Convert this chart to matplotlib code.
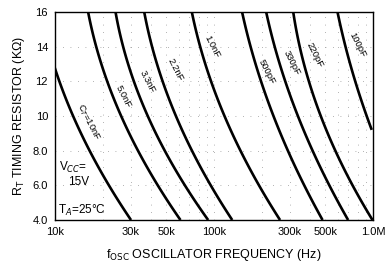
import matplotlib.pyplot as plt
import matplotlib.ticker as mticker
import numpy as np

plt.rcParams['font.family'] = ['Liberation Sans', 'DejaVu Sans']

# resistance (kOhm) / frequency (Hz) for each timing cap
r_pts = [16, 14, 12, 10, 8, 6, 4]
f_10n = [None, None, 10300, 13700, 16600, 20600, 30900]
f_5n = [16100, 18300, 21100, 26300, 33400, 43600, 62000]
f_3n3 = [23800, 26900, 31800, 38600, 49200, 62600, 94400]
f_2n2 = [36300, 40500, 48000, 58200, 74100, 89900, 134000]
f_1n = [72800, 79600, 99000, 117000, 149000, 181000, 268000]
f_500p = [150000, 167000, 204000, 236000, 293000, 356000, 492000]
f_330p = [212000, 236000, 293000, 339000, 411000, 512000, 716000]
f_220p = [314000, 348000, 392000, 476000, 577000, 735000, 1000000]
f_100p = [594000, 682000, 771000, 891000, None, None, None]

# curve ends on the plot edges
r_10n_start = 12.8
r_100p_end = 9.2

cap_labels = ["C$_T$=10nF", "5.0nF", "3.3nF", "2.2nF", "1.0nF",
              "500pF", "330pF", "220pF", "100pF"]
label_pos = [(88, 122), (123, 97), (147, 82), (175, 70), (212, 47),
             (267, 72), (292, 63), (315, 55), (357, 45)]

x_ticks = [10e3, 30e3, 50e3, 100e3, 300e3, 500e3, 1e6]
x_ticklabels = ["10k", "30k", "50k", "100k", "300k", "500k", "1.0M"]
y_ticks = [4, 6, 8, 10, 12, 14, 16]
y_ticklabels = ["4.0", "6.0", "8.0", "10", "12", "14", "16"]

W, H = 390, 269
fig = plt.figure(figsize=(W / 100, H / 100), dpi=100)
ax = fig.add_axes([55 / W, 1 - 220 / H, (373 - 55) / W, (220 - 12) / H])
ax.set_xscale('log')
ax.set_xlim(10e3, 1e6)
ax.set_ylim(4, 16)


def curve(freqs, first=None, last=None):
    f = [v for v in freqs if v is not None]
    r = [rr for rr, v in zip(r_pts, freqs) if v is not None]
    if first is not None:
        f = [first[0]] + f
        r = [first[1]] + r
    if last is not None:
        f = f + [last[0]]
        r = r + [last[1]]
    # smooth the hand-read points: quadratic of log f against R
    c = np.polyfit(r, np.log10(f), 2)
    rr = np.linspace(min(r), max(r), 120)
    return 10 ** np.polyval(c, rr), rr


series = [curve(f_10n, first=(10e3, r_10n_start)), curve(f_5n), curve(f_3n3),
          curve(f_2n2), curve(f_1n), curve(f_500p), curve(f_330p),
          curve(f_220p), curve(f_100p, last=(1e6, r_100p_end))]

for f, r in series:
    ax.plot(f, r, color='black', lw=1.9, solid_capstyle='butt')

# labels along the curves (pixel positions -> figure coords)
for txt, (px, py) in zip(cap_labels, label_pos):
    fig.text(px / W, 1 - py / H, txt, rotation=-63, ha='center', va='center',
             fontsize=6.8, rotation_mode='anchor')

ax.text(0.012, 0.255, "V$_{CC}$=", transform=ax.transAxes, fontsize=8.5, va='center')
ax.text(0.04, 0.185, "15V", transform=ax.transAxes, fontsize=8.5, va='center')
ax.text(0.01, 0.045, "T$_A$=25°C", transform=ax.transAxes, fontsize=8.5, va='center')

ax.set_xticks(x_ticks)
ax.set_xticklabels(x_ticklabels)
ax.xaxis.set_minor_locator(mticker.LogLocator(base=10, subs=np.arange(2, 10)))
ax.xaxis.set_minor_formatter(mticker.NullFormatter())
ax.set_yticks(y_ticks)
ax.set_yticklabels(y_ticklabels)
ax.tick_params(axis='both', which='both', length=0, labelsize=8, pad=5)
ax.grid(True, which='major', color='0.6', lw=0.6, linestyle=(0, (1, 8)))
ax.grid(True, which='minor', axis='x', color='0.6', lw=0.6, linestyle=(0, (1, 8)))

for s in ax.spines.values():
    s.set_linewidth(1.0)

ax.set_xlabel("f$_{\\rm OSC}$ OSCILLATOR FREQUENCY (Hz)", fontsize=9, labelpad=7)
ax.set_ylabel("R$_{\\rm T}$ TIMING RESISTOR (KΩ)", fontsize=9, labelpad=4)

fig.savefig("out.png", dpi=100, facecolor='white')
